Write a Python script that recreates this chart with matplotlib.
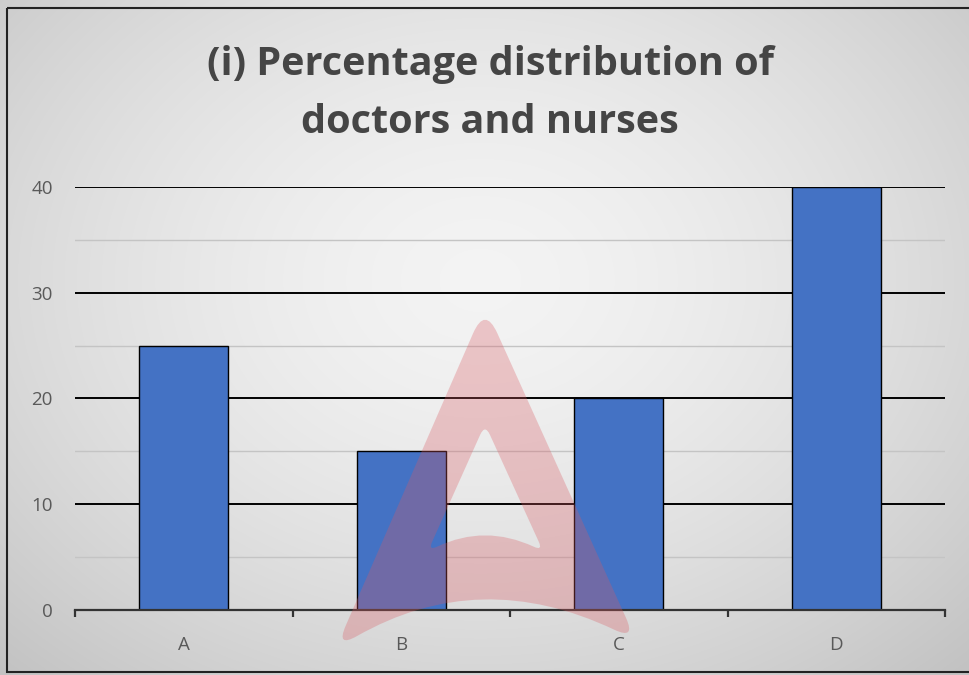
import numpy as np
import matplotlib
matplotlib.use("Agg")
import matplotlib.pyplot as plt
from matplotlib.path import Path
from matplotlib.patches import PathPatch, Rectangle

categories = ["A", "B", "C", "D"]
values = [25, 15, 20, 40]
yticks = [0, 10, 20, 30, 40]
minor_y = [5, 15, 25, 35]
title_lines = ["(i) Percentage distribution of", "doctors and nurses"]

W, H = 969, 675
fig = plt.figure(figsize=(W / 100, H / 100), dpi=100)

# grey radial gradient background
bg = fig.add_axes([0, 0, 1, 1], zorder=0)
yy, xx = np.mgrid[0:H, 0:W]
r = np.sqrt(((xx - 480) / 620.0) ** 2 + ((yy - 280) / 480.0) ** 2)
shade = np.clip(0.955 - 0.16 * r ** 1.6, 0.76, 0.96)
bg.imshow(np.dstack([shade] * 3), extent=[0, W, H, 0], aspect="auto")
bg.set_xlim(0, W)
bg.set_ylim(H, 0)
bg.axis("off")
bg.add_patch(Rectangle((7, 8), W + 20, 664, fill=False, edgecolor="#222222", lw=1.5))

ax = fig.add_axes([75 / W, 65 / H, 870 / W, 423 / H], zorder=1)
ax.patch.set_alpha(0)
x = np.arange(len(categories))
ax.bar(x, values, width=0.41, color="#4472C4", edgecolor="black", linewidth=1.0, zorder=3)

ax.set_xlim(-0.5, len(categories) - 0.5)
ax.set_ylim(0, 40)
ax.set_yticks(yticks)
ax.set_yticks(minor_y, minor=True)
ax.set_xticks(x)
ax.set_xticklabels(categories)
ax.set_xticks(np.arange(len(categories) + 1) - 0.5, minor=True)

ax.grid(axis="y", which="major", color="black", linewidth=1.4, zorder=1)
ax.grid(axis="y", which="minor", color="#c4c4c4", linewidth=1.0, zorder=1)
for s in ["top", "right", "left"]:
    ax.spines[s].set_visible(False)
ax.spines["bottom"].set_linewidth(1.6)
ax.spines["bottom"].set_color("#333333")
ax.spines["bottom"].set_zorder(4)

ax.tick_params(axis="y", which="both", length=0, pad=16, labelsize=13.5, labelcolor="#595959")
ax.tick_params(axis="x", which="major", length=0, pad=19, labelsize=13.5, labelcolor="#595959")
ax.tick_params(axis="x", which="minor", length=5, width=1.6, color="#333333", direction="out")
for lbl in ax.get_xticklabels() + ax.get_yticklabels():
    lbl.set_family("Open Sans")

for txt, base in zip(title_lines, [75, 133]):
    fig.text(490 / W, 1 - base / H, txt, ha="center", va="baseline", fontsize=28.5,
             fontweight="bold", color="#454545", family="Open Sans")


def rounded(pts, ctrls, rad):
    # closed outline with rounded corners; ctrls[i] bends edge i -> i+1
    n = len(pts)
    pts = [np.array(p, float) for p in pts]
    ins, outs = [], []
    for i in range(n):
        v = pts[i]
        prev_anchor = ctrls[i - 1] if ctrls[i - 1] is not None else pts[i - 1]
        next_anchor = ctrls[i] if ctrls[i] is not None else pts[(i + 1) % n]
        a = np.array(prev_anchor, float) - v
        b = np.array(next_anchor, float) - v
        ins.append(v + rad[i] * a / np.linalg.norm(a))
        outs.append(v + rad[i] * b / np.linalg.norm(b))
    verts, codes = [outs[0]], [Path.MOVETO]
    for i in range(n):
        j = (i + 1) % n
        if ctrls[i] is None:
            verts += [ins[j]]
            codes += [Path.LINETO]
        else:
            verts += [ctrls[i], ins[j]]
            codes += [Path.CURVE3, Path.CURVE3]
        verts += [pts[j], outs[j]]
        codes += [Path.CURVE3, Path.CURVE3]
    return verts, codes


# faint watermark logo
ov = fig.add_axes([0, 0, 1, 1], zorder=5)
ov.set_xlim(0, W)
ov.set_ylim(H, 0)
ov.axis("off")
ov_v, ov_c = rounded([(485, 306), (636, 640), (336, 648)], [None, (480, 566), None], [30, 24, 24])
in_v, in_c = rounded([(485, 424), (428, 551), (543, 551)], [None, (485, 524), None], [12, 10, 10])
ov.add_patch(PathPatch(Path(ov_v + in_v, ov_c + in_c), facecolor=(0.85, 0.35, 0.38), alpha=0.3,
                       edgecolor="none"))

fig.savefig("out.png", dpi=100)
